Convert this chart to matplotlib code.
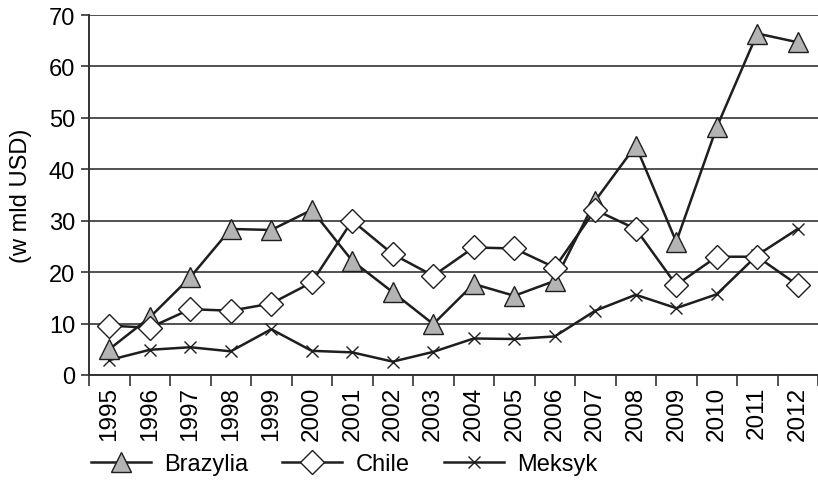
import numpy as np
import matplotlib
matplotlib.use("Agg")
import matplotlib.pyplot as plt

years = [str(y) for y in range(1995, 2013)]
brazylia = [5.0, 11.2, 19.0, 28.4, 28.2, 32.1, 22.2, 16.1, 9.9, 17.7, 15.4, 18.3, 33.9, 44.6, 25.9, 48.2, 66.4, 64.7]
chile = [9.6, 9.2, 12.8, 12.5, 13.9, 18.0, 30.0, 23.5, 19.3, 24.8, 24.6, 20.9, 32.1, 28.4, 17.5, 23.0, 23.0, 17.5]
meksyk = [2.9, 4.9, 5.4, 4.6, 8.9, 4.7, 4.4, 2.6, 4.5, 7.1, 7.0, 7.5, 12.5, 15.6, 13.0, 15.7, 23.3, 28.4]

plt.rcParams['font.family'] = ['Liberation Sans', 'DejaVu Sans']

fig = plt.figure(figsize=(8.18, 4.89), dpi=100)
ax = fig.add_axes([89 / 818, 1 - 376 / 489, 1 - 89 / 818, 360 / 489])

x = np.arange(len(years))
line_col = '#1e1e1e'
ax.plot(x, brazylia, color=line_col, lw=1.8, marker='^', ms=15,
        mfc='#b4b4b4', mec='#1e1e1e', mew=1.0, label='Brazylia', zorder=3)
ax.plot(x, chile, color=line_col, lw=1.8, marker='D', ms=12,
        mfc='white', mec='#1e1e1e', mew=1.0, label='Chile', zorder=4)
ax.plot(x, meksyk, color=line_col, lw=1.8, marker='x', ms=8,
        mec='#1e1e1e', mew=1.0, label='Meksyk', zorder=2)

ax.set_ylim(0, 70)
ax.set_xlim(-0.5, -0.5 + 729 / 40.85)
ax.set_yticks(range(0, 71, 10))
ax.yaxis.grid(True, color='#333333', lw=1.2)
ax.set_axisbelow(True)
ax.tick_params(axis='y', labelsize=17, length=6, width=1.2, color='#333333', pad=4)

ax.set_xticks(x)
ax.set_xticklabels(years, rotation=90, fontsize=17.5)
ax.set_xticks(np.arange(-0.5, len(years), 1), minor=True)
ax.tick_params(axis='x', which='major', length=0, pad=8)
ax.tick_params(axis='x', which='minor', length=8, width=1.2, color='#333333')

for s in ['top', 'right']:
    ax.spines[s].set_visible(False)
for s in ['left', 'bottom']:
    ax.spines[s].set_color('#333333')
    ax.spines[s].set_linewidth(1.4)

ax.set_ylabel('(w mld USD)', fontsize=17, labelpad=12)

ax.legend(loc='center left', bbox_to_anchor=(-0.027, -0.247), ncol=3, frameon=False,
          fontsize=17, handlelength=2.55, columnspacing=1.45, handletextpad=0.55)

fig.savefig('out.png', dpi=100)
